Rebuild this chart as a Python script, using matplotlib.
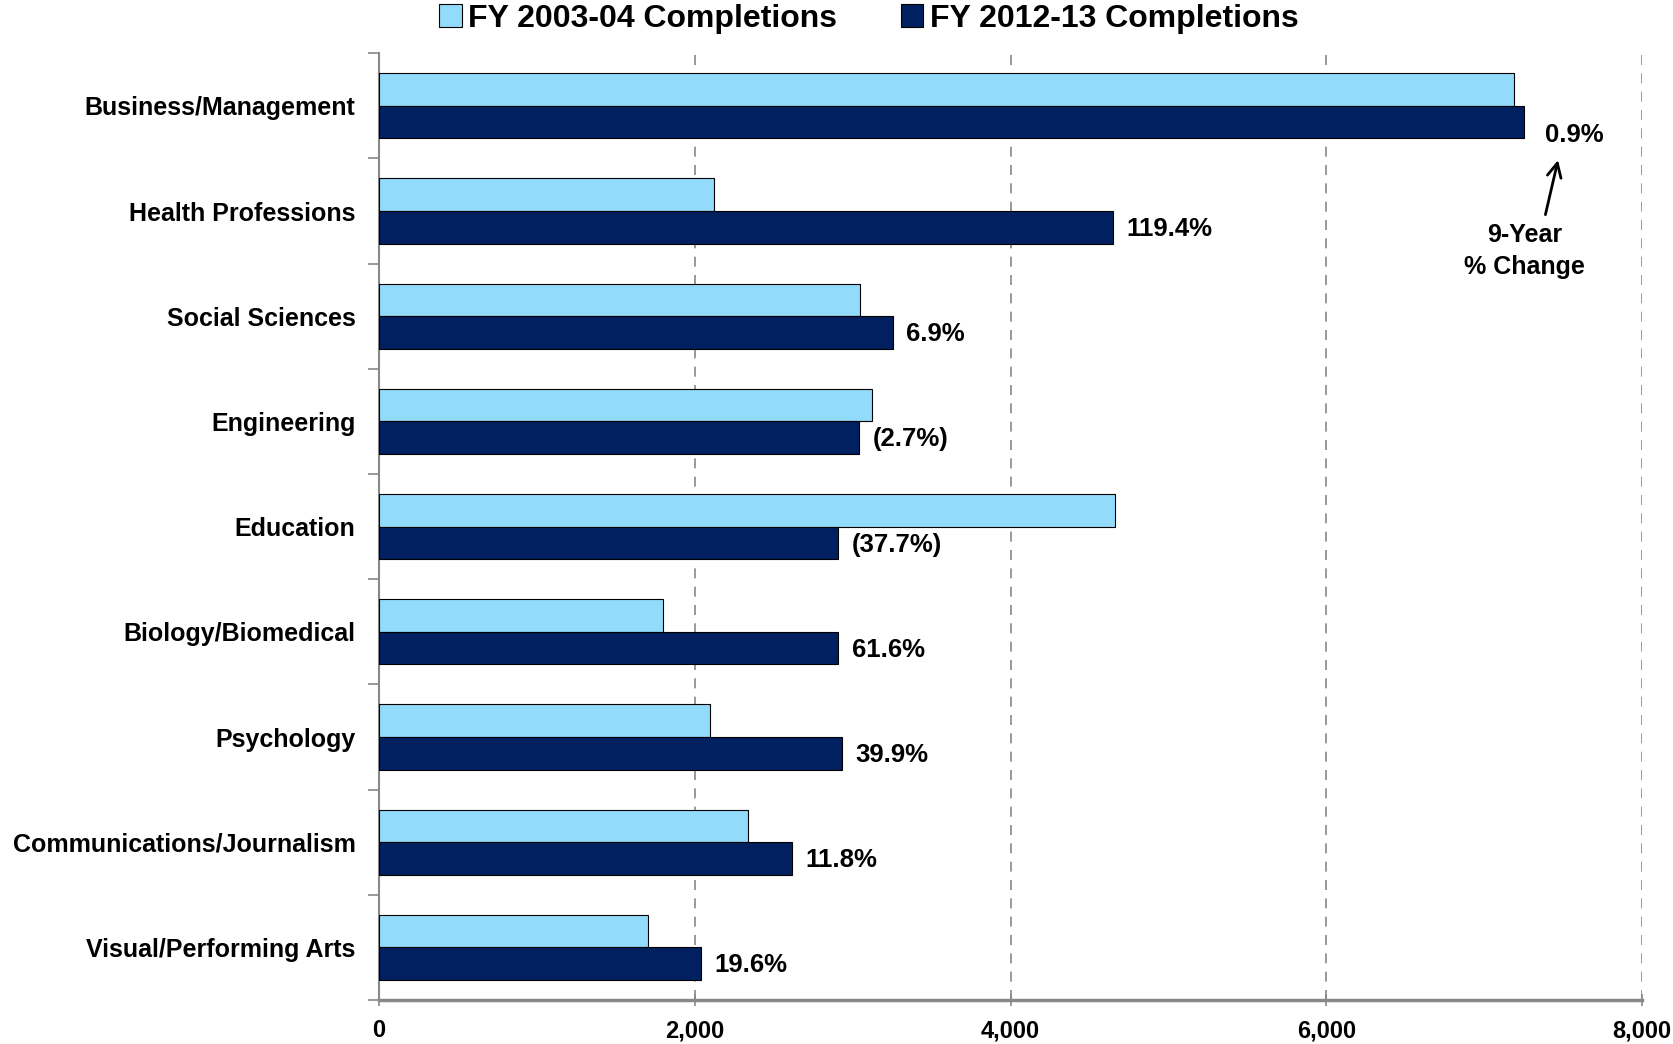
import numpy as np
import matplotlib
matplotlib.use("Agg")
import matplotlib.pyplot as plt
from matplotlib.ticker import FixedLocator, FuncFormatter

plt.rcParams['font.family'] = ['Liberation Sans', 'DejaVu Sans']
plt.rcParams['font.weight'] = 'bold'

categories = ["Business/Management", "Health Professions", "Social Sciences", "Engineering",
              "Education", "Biology/Biomedical", "Psychology", "Communications/Journalism",
              "Visual/Performing Arts"]
fy0304 = [7190, 2120, 3045, 3125, 4665, 1800, 2095, 2340, 1705]
fy1213 = [7255, 4650, 3255, 3040, 2907, 2908, 2932, 2616, 2040]
pct_labels = ["0.9%", "119.4%", "6.9%", "(2.7%)", "(37.7%)", "61.6%", "39.9%", "11.8%", "19.6%"]
series_names = ["FY 2003-04 Completions", "FY 2012-13 Completions"]
xticks = [0, 2000, 4000, 6000, 8000]

light = '#93DBFA'
dark = '#002060'

fig = plt.figure(figsize=(16.74, 10.44), dpi=100)
ax = fig.add_axes([0.2264, 0.0421, 0.9809 - 0.2264, 0.949 - 0.0421])

y = np.arange(len(categories))
h = 0.31
b1 = ax.barh(y - h / 2, fy0304, height=h, color=light, edgecolor='black', linewidth=0.8,
             label=series_names[0], zorder=3)
b2 = ax.barh(y + h / 2, fy1213, height=h, color=dark, edgecolor='black', linewidth=0.8,
             label=series_names[1], zorder=3)

# % change labels next to the 2012-13 bars
for i, (v, lab) in enumerate(zip(fy1213, pct_labels)):
    dx, dy = (130, 0.28) if i == 0 else (85, 0.17)
    ax.text(v + dx, i + dy, lab, fontsize=18.5, fontweight='bold', va='center', ha='left')

ax.annotate("", xy=(7472, 0.49), xytext=(7384, 1.06),
            arrowprops=dict(arrowstyle='->', color='black', lw=2, mutation_scale=25))
ax.text(7255, 1.38, "9-Year\n% Change", fontsize=18, fontweight='bold', ha='center',
        va='center', linespacing=1.4)

ax.set_xlim(0, 8000)
ax.set_ylim(len(categories) - 0.5, -0.5)
ax.set_xticks(xticks)
ax.xaxis.set_major_formatter(FuncFormatter(lambda v, p: f"{int(v):,}"))
ax.set_yticks(y)
ax.set_yticklabels(categories)
ax.yaxis.set_minor_locator(FixedLocator(np.arange(-0.5, len(categories), 1.0)))

ax.tick_params(axis='y', which='major', length=0, pad=17, labelsize=18)
ax.tick_params(axis='y', which='minor', length=8, width=1.2, color='#888888', direction='out')
ax.tick_params(axis='x', which='major', length=8, width=1.2, color='#888888',
               direction='inout', pad=10, labelsize=17)
for lab in ax.get_xticklabels() + ax.get_yticklabels():
    lab.set_fontweight('bold')

ax.grid(axis='x', linestyle=(0, (6, 5)), color='#888888', linewidth=1.2, zorder=0)
for s in ['top', 'right']:
    ax.spines[s].set_visible(False)
ax.spines['left'].set_color('#888888')
ax.spines['left'].set_linewidth(1.5)
ax.spines['bottom'].set_color('#888888')
ax.spines['bottom'].set_linewidth(2.5)

fig.legend(handles=[b1, b2], loc='center', bbox_to_anchor=(0.519, 0.982), ncol=2,
           frameon=False, prop={'size': 23, 'weight': 'bold'}, handlelength=0.7,
           handleheight=0.7, handletextpad=0.2, columnspacing=2.0)

fig.savefig("out.png", dpi=100)
